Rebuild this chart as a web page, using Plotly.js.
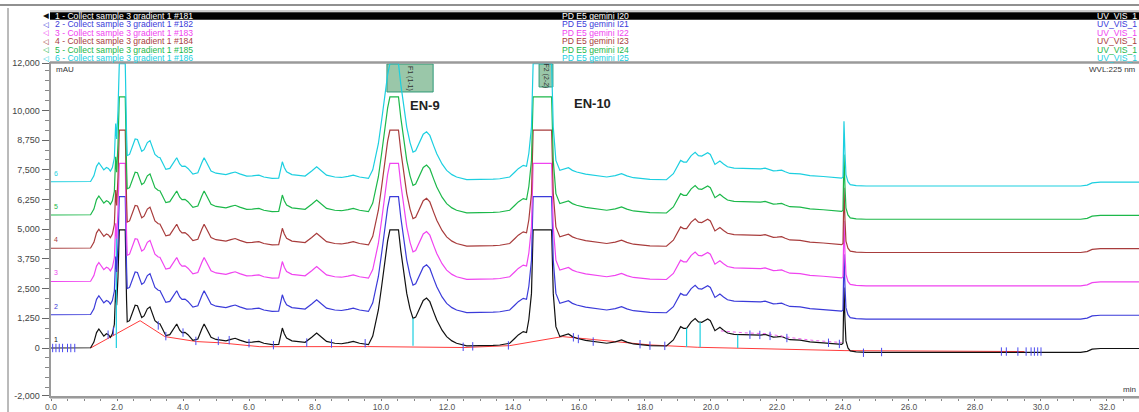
<!DOCTYPE html>
<html><head><meta charset="utf-8">
<script src="https://cdn.plot.ly/plotly-3.0.1.min.js"></script>
<style>html,body{margin:0;padding:0;background:#fff;overflow:hidden}#chart{width:1139px;height:412px}</style>
</head><body><div id="chart"></div>
<script>
// retention time (min) and detector signal of run #181 (mAU)
const timeMin = [
 0, 0.5, 1.0, 1.2, 1.3, 1.38, 1.45, 1.52, 1.6, 1.68,
 1.74, 1.8, 1.86, 1.92, 1.96, 1.99, 2.03, 2.07, 2.25, 2.29,
 2.31, 2.38, 2.46, 2.55, 2.62, 2.68, 2.75, 2.82, 2.92, 3.0,
 3.07, 3.15, 3.25, 3.3, 3.38, 3.48, 3.6, 3.72, 3.81, 3.9,
 3.97, 4.06, 4.15, 4.3, 4.45, 4.57, 4.64, 4.72, 4.85, 5.0,
 5.3, 5.45, 5.58, 5.72, 5.93, 6.1, 6.3, 6.45, 6.7, 6.9,
 6.96, 7.01, 7.07, 7.14, 7.3, 7.5, 7.7, 7.9, 8.05, 8.2,
 8.35, 8.6, 8.8, 9.0, 9.16, 9.35, 9.62, 9.75, 9.82, 9.92,
 10.02, 10.1, 10.2, 10.27, 10.53, 10.6, 10.7, 10.78, 10.88, 10.97,
 11.05, 11.15, 11.28, 11.38, 11.48, 11.6, 11.69, 11.85, 11.99, 12.15,
 12.29, 12.6, 13.0, 13.4, 13.6, 13.9, 14.05, 14.16, 14.31, 14.41,
 14.48, 14.56, 14.61, 15.17, 15.22, 15.3, 15.42, 15.55, 15.68, 15.8,
 15.93, 16.2, 16.43, 16.84, 17.1, 17.29, 17.45, 17.65, 18.15, 18.65,
 18.86, 19.0, 19.08, 19.17, 19.26, 19.4, 19.52, 19.62, 19.72, 19.9,
 19.98, 20.12, 20.27, 20.38, 20.5, 20.7, 20.88, 21.1, 21.28, 21.5,
 21.64, 21.78, 21.89, 22.0, 22.14, 22.25, 22.39, 22.7, 23.0, 23.4,
 23.6, 23.96, 24.0, 24.03, 24.06, 24.09, 24.15, 24.22, 24.4, 24.7,
 31.2, 31.4, 31.55, 31.8, 33
];
const signalMAU = [
 0, 0, 0, 10, 250, 650, 800, 650, 500, 600,
 560, 450, 600, 1000, 2450, 1800, 3000, 4970, 4970, 2000,
 1100, 1150, 1450, 1800, 1780, 1550, 1280, 1350, 1650, 1730,
 1450, 1150, 1030, 1020, 800, 520, 560, 850, 1010, 750,
 650, 660, 560, 320, 380, 800, 1010, 800, 450, 360,
 300, 360, 410, 330, 240, 250, 280, 200, 140, 150,
 500, 840, 600, 420, 300, 260, 240, 450, 630, 450,
 280, 200, 180, 230, 280, 200, 140, 500, 910, 1600,
 2600, 3500, 4500, 4970, 4970, 4100, 3100, 2300, 1650, 1250,
 1300, 1600, 2000, 2100, 1950, 1500, 1180, 750, 480, 300,
 200, 90, 90, 110, 126, 200, 400, 550, 690, 650,
 1200, 2300, 4970, 4970, 2300, 900, 480, 520, 590, 480,
 410, 320, 270, 200, 260, 340, 250, 170, 100, 85,
 340, 700, 900, 830, 830, 1100, 1240, 1100, 1080, 1220,
 1150, 730, 870, 750, 630, 570, 560, 560, 560, 540,
 570, 500, 460, 470, 490, 420, 350, 330, 260, 220,
 190, 150, 200, 2550, 1200, 300, 0, -120, -160, -180,
 -180, -140, -50, -20, -20
];
const traceNames = [
 "1 - Collect sample 3 gradient 1 #181",
 "2 - Collect sample 3 gradient 1 #182",
 "3 - Collect sample 3 gradient 1 #183",
 "4 - Collect sample 3 gradient 1 #184",
 "5 - Collect sample 3 gradient 1 #185",
 "6 - Collect sample 3 gradient 1 #186"
];
const sampleNames = ["PD E5 gemini I20","PD E5 gemini I21","PD E5 gemini I22","PD E5 gemini I23","PD E5 gemini I24","PD E5 gemini I25"];
const channelNames = ["UV_VIS_1","UV_VIS_1","UV_VIS_1","UV_VIS_1","UV_VIS_1","UV_VIS_1"];
const traceLabels = ["1","2","3","4","5","6"];
const traceOffsets = [0, 1400, 2800, 4200, 5600, 7000];
const traceColors = ["#111111","#3b3bd9","#f044f0","#a83c3c","#1cb84a","#1ccfe0"];

// integration baseline of run #181
const baselineT = [1.2, 2.7, 3.45, 4.41, 5.12, 5.93, 6.33, 9.6, 12.5, 13.9, 15.5, 18.15, 19.6, 24.06, 29.5];
const baselineV = [0, 1150, 480, 270, 220, 100, 55, 60, 20, 100, 480, 130, 30, -110, -150];
// peak delimiters
const delimT = [0.05,0.15,0.25,0.35,0.5,0.6,0.72,1.73,1.89,3.25,3.48,4.0,4.39,5.07,5.4,6.0,6.74,7.75,8.5,9.52,12.49,12.78,13.86,15.83,15.98,16.43,17.85,18.15,18.6,21.18,21.48,21.79,22.3,23.56,23.89,24.62,25.17,28.8,28.95,29.3,29.55,29.7,29.8,29.9,30.0];
const delimV = [0,0,0,0,0,0,0,560,700,950,500,650,300,300,330,200,120,230,190,200,50,70,110,450,380,270,160,100,90,560,550,510,420,220,170,-200,-170,-150,-150,-150,-150,-150,-150,-150,-150];
// peak retention markers
const peakMarkT = [1.98, 10.97, 19.26, 19.67, 20.81];
const peakMarkLow = [0, 90, 40, 30, 0];
const peakMarkHigh = [5000, 1250, 830, 1080, 560];
// rider integration line
const riderT = [20.3, 21.0, 21.7, 22.4, 23.1, 23.96];
const riderV = [720, 640, 600, 440, 320, 230];
// fractions
const fracNames = ["F1 (1-1)", "F2 (2-2)"];
const fracStart = [10.18, 14.79];
const fracEnd = [11.58, 15.21];
const fracBottom = [10780, 10990];
const fracTop = [11958, 11958];
// peak names
const peakNames = ["EN-9", "EN-10"];
const peakNameT = [11.33, 16.42];
const peakNameV = [10230, 10315];

const yTickVals = [12000, 10000, 8750, 7500, 6250, 5000, 3750, 2500, 1250, 0, -2000];
const yTickText = ["12,000","10,000","8,750","7,500","6,250","5,000","3,750","2,500","1,250","0","-2,000"];
const xTickVals = [0,2,4,6,8,10,12,14,16,18,20,22,24,26,28,30,32];
const xTickText = xTickVals.map(v => v.toFixed(1));

const FONT = "Liberation Sans, Arial, sans-serif";
const L = 51, T = 62, B = 396, W = 1088, H = B - T;
const px = X => (X - L) / W;
const py = Y => (B - Y) / H;

const data = [];
data.push({x: baselineT, y: baselineV, mode: 'lines', line: {color: '#ff3b3b', width: 1}, hoverinfo: 'skip'});
function runTrace(k) {
  return {x: timeMin, y: signalMAU.map(v => v + traceOffsets[k]), mode: 'lines',
    line: {color: traceColors[k], width: 1.2}, name: traceNames[k], hoverinfo: 'skip'};
}
data.push(runTrace(0));
const mx = [], my = [];
peakMarkT.forEach((t, i) => { mx.push(t, t, null); my.push(peakMarkLow[i], peakMarkHigh[i], null); });
data.push({x: mx, y: my, mode: 'lines', line: {color: '#1ccfe0', width: 1.2}, hoverinfo: 'skip'});
data.push({x: riderT, y: riderV, mode: 'lines', line: {color: '#f060f0', width: 1, dash: 'dot'}, hoverinfo: 'skip'});
data.push({x: delimT, y: delimV, mode: 'markers', marker: {symbol: 'line-ns', size: 6, line: {color: '#4a4af0', width: 1}}, hoverinfo: 'skip'});
for (let k = 1; k < 6; k++) data.push(runTrace(k));

const shapes = [];
fracNames.forEach((n, i) => shapes.push({type: 'rect', xref: 'x', yref: 'y', x0: fracStart[i], x1: fracEnd[i], y0: fracBottom[i], y1: fracTop[i],
  fillcolor: 'rgba(120,180,140,0.75)', line: {color: '#2f9a78', width: 1}, layer: 'below'}));
shapes.push({type: 'line', xref: 'paper', yref: 'paper', x0: px(50), x1: 1.01, y0: py(62.5), y1: py(62.5), line: {color: '#9a9a9a', width: 2.5}});
shapes.push({type: 'line', xref: 'paper', yref: 'paper', x0: px(0), x1: 1.01, y0: py(5), y1: py(5), line: {color: '#222', width: 1.2}});
shapes.push({type: 'line', xref: 'paper', yref: 'paper', x0: px(8), x1: px(8), y0: py(413), y1: py(8), line: {color: '#777', width: 1}});
shapes.push({type: 'rect', xref: 'paper', yref: 'paper', x0: px(50), x1: 1.01, y0: py(19.8), y1: py(12.3), fillcolor: '#000', line: {width: 0}});
shapes.push({type: 'line', xref: 'paper', yref: 'paper', x0: px(50), x1: 1.01, y0: py(11), y1: py(11), line: {color: '#bbb', width: 1.5}});
shapes.push({type: 'line', xref: 'paper', yref: 'paper', x0: px(50), x1: 1.01, y0: py(398.5), y1: py(398.5), line: {color: '#c8c8c8', width: 1}});

const ann = [];
for (let i = 0; i < 6; i++) {
  const Y = 15.6 + i * 8.5;
  const c = i === 0 ? '#ffffff' : traceColors[i];
  ann.push({xref: 'paper', yref: 'paper', x: px(46), y: py(Y), text: i === 0 ? '◀' : '◁', showarrow: false,
    font: {family: 'DejaVu Sans', size: 7.5, color: traceColors[i]}, xanchor: 'center', yanchor: 'middle', borderpad: 0});
  ann.push({xref: 'paper', yref: 'paper', x: px(53), y: py(Y), text: traceNames[i], showarrow: false,
    font: {family: FONT, size: 8.6, color: c}, xanchor: 'left', yanchor: 'middle'});
  ann.push({xref: 'paper', yref: 'paper', x: px(560), y: py(Y), text: sampleNames[i], showarrow: false,
    font: {family: FONT, size: 8.6, color: c}, xanchor: 'left', yanchor: 'middle'});
  ann.push({xref: 'paper', yref: 'paper', x: px(1139), y: py(Y), text: channelNames[i], showarrow: false,
    font: {family: FONT, size: 8.6, color: c}, xanchor: 'right', yanchor: 'middle'});
  ann.push({xref: 'x', yref: 'y', x: 0.02, y: traceOffsets[i] + 130, text: traceLabels[i], showarrow: false,
    font: {family: FONT, size: 7, color: traceColors[i]}, xanchor: 'left', yanchor: 'bottom'});
}
fracNames.forEach((n, i) => ann.push({xref: 'x', yref: 'y', x: (fracStart[i] + fracEnd[i]) / 2, y: (fracBottom[i] + fracTop[i]) / 2,
  text: n, textangle: 90, showarrow: false, font: {family: FONT, size: 7, color: '#333'}}));
peakNames.forEach((n, i) => ann.push({xref: 'x', yref: 'y', x: peakNameT[i], y: peakNameV[i], text: '<b>' + n + '</b>',
  showarrow: false, font: {family: FONT, size: 13, color: '#222'}}));
ann.push({xref: 'paper', yref: 'paper', x: px(54), y: py(70), text: 'mAU', showarrow: false, xanchor: 'left', yanchor: 'middle', font: {family: FONT, size: 8, color: '#333'}});
ann.push({xref: 'paper', yref: 'paper', x: px(1087), y: py(70), text: 'WVL:225 nm', showarrow: false, xanchor: 'left', yanchor: 'middle', font: {family: FONT, size: 8, color: '#333'}});
ann.push({xref: 'paper', yref: 'paper', x: px(1121), y: py(389), text: 'min', showarrow: false, xanchor: 'left', yanchor: 'middle', font: {family: FONT, size: 8, color: '#333'}});

const layout = {
  width: 1139, height: 412, margin: {l: L, r: 0, t: T, b: 412 - B, pad: 0},
  paper_bgcolor: '#fff', plot_bgcolor: '#fff', showlegend: false,
  font: {family: FONT, size: 9, color: '#444'},
  xaxis: {range: [0, 32.97], tickmode: 'array', tickvals: xTickVals, ticktext: xTickText, ticks: 'outside', ticklen: 3, tickcolor: '#777',
    showline: true, linecolor: '#9a9a9a', linewidth: 2, showgrid: false, zeroline: false, ticklabelstandoff: -1,
    tickfont: {family: FONT, size: 8.5, color: '#555'},
    minor: {tickmode: 'linear', tick0: 0, dtick: 0.5, ticks: 'outside', ticklen: 3, tickcolor: '#888', showgrid: false}},
  yaxis: {range: [-2021, 12042], tickmode: 'array', tickvals: yTickVals, ticktext: yTickText, ticks: 'outside', ticklen: 7, tickcolor: '#666',
    showline: true, linecolor: '#9a9a9a', linewidth: 2.5, showgrid: false, zeroline: false,
    tickfont: {family: FONT, size: 9, color: '#444'},
    minor: {tickmode: 'linear', tick0: 0, dtick: 416.667, ticks: 'outside', ticklen: 4, tickcolor: '#888', showgrid: false}},
  shapes: shapes, annotations: ann
};
Plotly.newPlot('chart', data, layout, {staticPlot: true, displayModeBar: false});
</script></body></html>
